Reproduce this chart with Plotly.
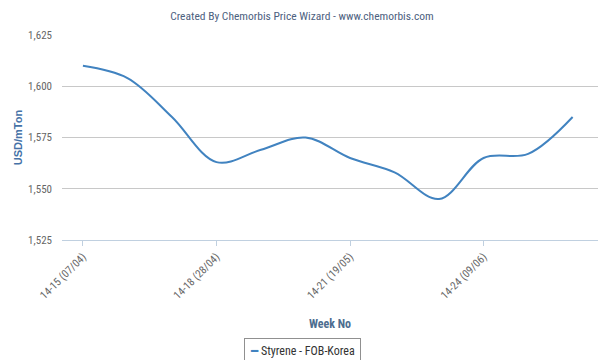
import plotly.graph_objects as go

weeks = ["14-15 (07/04)", "14-16 (14/04)", "14-17 (21/04)", "14-18 (28/04)",
         "14-19 (05/05)", "14-20 (12/05)", "14-21 (19/05)", "14-22 (26/05)",
         "14-23 (02/06)", "14-24 (09/06)", "14-25 (16/06)", "14-26 (23/06)"]
prices = [1610, 1604, 1585, 1563, 1569, 1575, 1565, 1558, 1545, 1565, 1567, 1585]
series_name = "Styrene - FOB-Korea"
tick_idx = [0, 3, 6, 9]
line_color = "#4183c0"

FONT = "Liberation Sans Narrow, Roboto Condensed, Liberation Sans, Arial"

fig = go.Figure()
fig.add_trace(go.Scatter(
    x=list(range(len(weeks))), y=prices, mode="lines", name=series_name,
    line=dict(color=line_color, width=2, shape="spline", smoothing=1.0),
    showlegend=False,
))

# legend box (drawn as bordered text so it can be clipped at the bottom like the original)
fig.add_annotation(
    x=0.448, y=-0.541, xref="paper", yref="paper", xanchor="center", yanchor="middle",
    text=f"<span style='color:{line_color};font-family:DejaVu Sans'><b>━</b></span> {series_name}",
    showarrow=False, bordercolor="#909090", borderwidth=1, borderpad=5, bgcolor="white",
    font=dict(family=FONT, size=12, color="#333333"),
)

fig.update_layout(
    width=604, height=360,
    margin=dict(l=62, r=6, t=35, b=120),
    paper_bgcolor="white", plot_bgcolor="white",
    font=dict(family=FONT, size=11, color="#666666"),
    title=dict(text="Created By Chemorbis Price Wizard - www.chemorbis.com",
               x=0.5, xanchor="center", y=0.955, yanchor="middle",
               font=dict(family=FONT, size=11.5, color="#4d6180")),
    xaxis=dict(
        range=[-0.47, 11.57], showgrid=False, zeroline=False, automargin=False,
        tickvals=tick_idx, ticktext=[weeks[i] for i in tick_idx],
        tickangle=-45, ticks="outside", ticklen=5, tickcolor="#C0D0E0",
        showline=True, linecolor="#C0D0E0", linewidth=1,
        tickfont=dict(family=FONT, size=11, color="#666666"),
        title=dict(text="<b>Week No</b>", font=dict(family=FONT, size=12, color="#4d6d8f"), standoff=18),
    ),
    yaxis=dict(
        range=[1525, 1625], tickvals=[1525, 1550, 1575, 1600, 1625],
        tickformat=",d", showgrid=True, gridcolor="#C8C8C8", gridwidth=1,
        zeroline=False, showline=False, ticks="", ticklabelstandoff=9, automargin=False,
        tickfont=dict(family=FONT, size=11, color="#666666"),
        title=dict(text="<b>USD/mTon</b>", font=dict(family="Liberation Sans, Arial", size=11, color="#4572A7"), standoff=3),
    ),
)

fig.write_html("out.html")
